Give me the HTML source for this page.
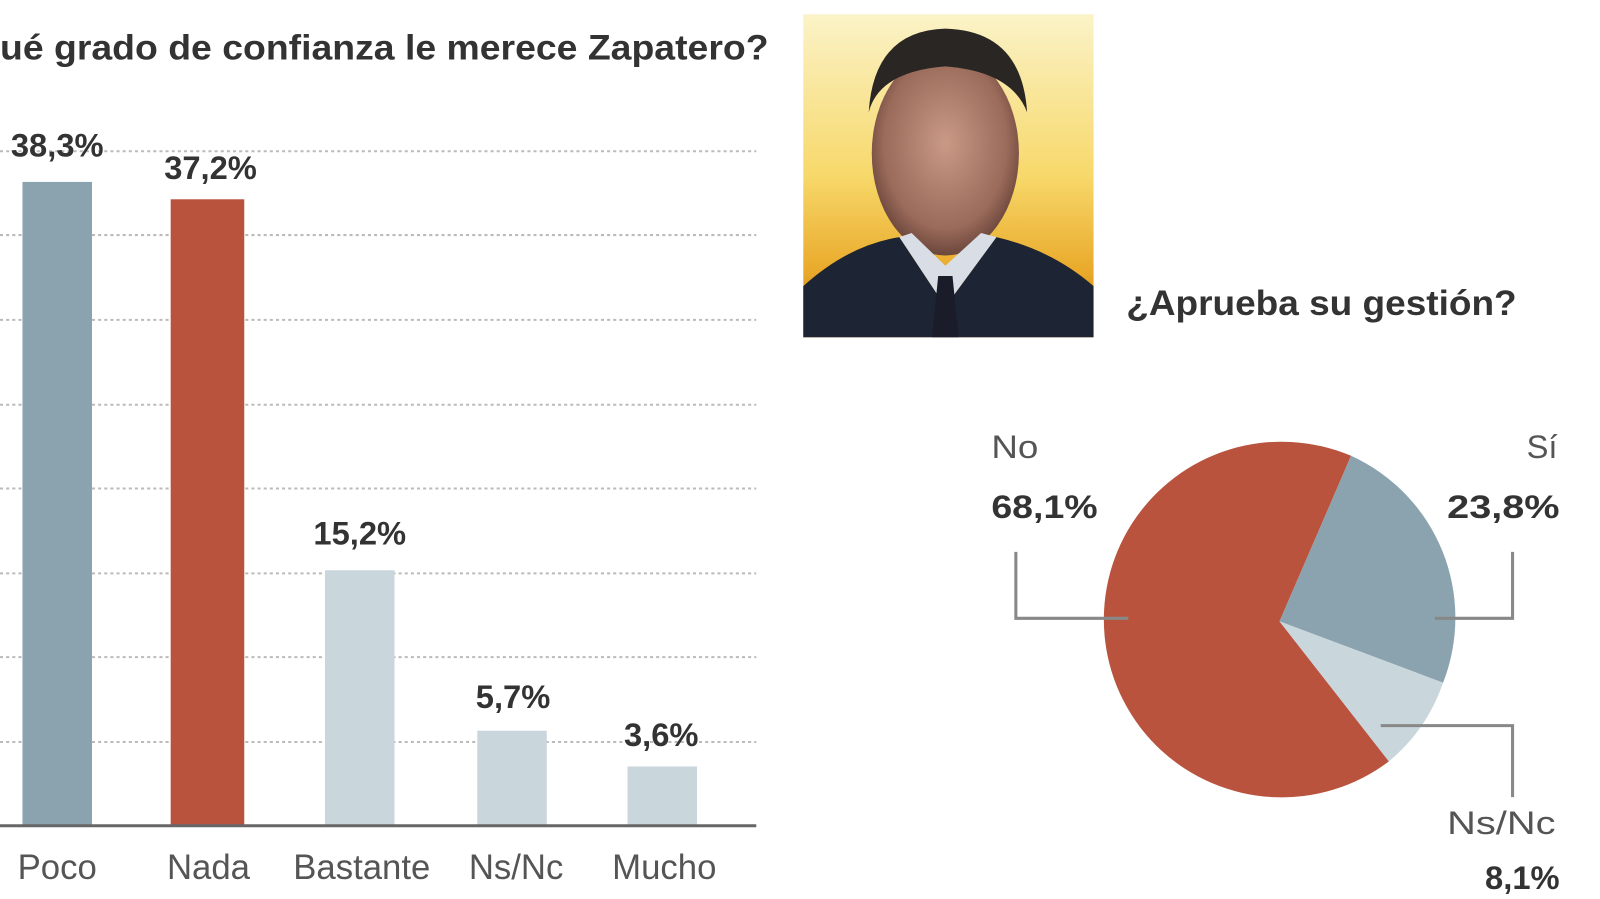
<!DOCTYPE html>
<html><head><meta charset="utf-8"><style>
html,body{margin:0;padding:0;background:#fff;overflow:hidden}
svg{display:block}
text{font-family:"Liberation Sans Narrow","Liberation Sans",sans-serif;}
</style></head><body>
<svg width="1600" height="899" viewBox="0 0 1600 899" xmlns="http://www.w3.org/2000/svg">
<defs>
<linearGradient id="bg" x1="0" y1="0" x2="0" y2="1">
<stop offset="0" stop-color="#fbf3c8"/><stop offset="0.5" stop-color="#f7d86a"/><stop offset="0.8" stop-color="#e9a92a"/><stop offset="1" stop-color="#c07a10"/>
</linearGradient>
<radialGradient id="face" cx="0.5" cy="0.45" r="0.6">
<stop offset="0" stop-color="#c99a86"/><stop offset="0.7" stop-color="#9a6a5a"/><stop offset="1" stop-color="#5a3a30"/>
</radialGradient>
</defs>
<g transform="scale(1.022)">
<text x="0" y="58" font-size="34" font-weight="bold" fill="#333" textLength="752" lengthAdjust="spacingAndGlyphs">ué grado de confianza le merece Zapatero?</text>
<g stroke="#bbb" stroke-width="2" stroke-dasharray="3,3">
<line x1="0" y1="148" x2="740" y2="148"/><line x1="0" y1="230" x2="740" y2="230"/>
<line x1="0" y1="313" x2="740" y2="313"/><line x1="0" y1="396" x2="740" y2="396"/>
<line x1="0" y1="478" x2="740" y2="478"/><line x1="0" y1="561" x2="740" y2="561"/>
<line x1="0" y1="643" x2="740" y2="643"/><line x1="0" y1="726" x2="740" y2="726"/>
</g>
<rect x="22" y="178" width="68" height="630" fill="#8aa3ae"/>
<rect x="167" y="195" width="72" height="613" fill="#b9533e"/>
<rect x="318" y="558" width="68" height="250" fill="#c9d6dc"/>
<rect x="467" y="715" width="68" height="93" fill="#c9d6dc"/>
<rect x="614" y="750" width="68" height="58" fill="#c9d6dc"/>
<line x1="0" y1="808" x2="740" y2="808" stroke="#666" stroke-width="3"/>
<g font-size="32" font-weight="bold" fill="#333" text-anchor="middle">
<text x="56" y="153">38,3%</text><text x="206" y="175">37,2%</text>
<text x="352" y="533">15,2%</text><text x="502" y="693">5,7%</text><text x="647" y="730">3,6%</text>
</g>
<g font-size="34" fill="#555" text-anchor="middle">
<text x="56" y="860">Poco</text><text x="204" y="860">Nada</text><text x="354" y="860">Bastante</text>
<text x="505" y="860">Ns/Nc</text><text x="650" y="860">Mucho</text>
</g>
<rect x="786" y="14" width="284" height="316" fill="url(#bg)"/>
<ellipse cx="925" cy="150" rx="72" ry="100" fill="url(#face)"/>
<path d="M850 110 Q855 30 925 28 Q1000 30 1005 110 Q990 70 925 65 Q860 70 850 110Z" fill="#2a2624"/>
<path d="M786 330 L786 280 Q830 240 880 232 L925 300 L975 232 Q1030 245 1070 280 L1070 330Z" fill="#1d2433"/>
<path d="M880 232 L925 300 L975 232 L960 228 L925 260 L892 228Z" fill="#d8dde6"/>
<path d="M918 270 L932 270 L938 330 L912 330Z" fill="#1a1c2a"/>
<text x="1102" y="308" font-size="34" font-weight="bold" fill="#333" textLength="382" lengthAdjust="spacingAndGlyphs">¿Aprueba su gestión?</text>
<g transform="translate(-6,0)">
<path d="M1258 608 L1328 446 A174 174 0 1 0 1365 745 Z" fill="#b9533e"/>
<path d="M1258 608 L1328 446 A174 174 0 0 1 1418 668 Z" fill="#8aa3ae"/>
<path d="M1258 608 L1418 668 A174 174 0 0 1 1365 745 Z" fill="#c9d6dc"/>
<g stroke="#888" stroke-width="3" fill="none">
<polyline points="1000,540 1000,605 1110,605"/>
<polyline points="1486,540 1486,605 1410,605"/>
<polyline points="1357,710 1486,710 1486,780"/>
</g>
<g font-size="32" fill="#555">
<text x="976" y="448" textLength="46" lengthAdjust="spacingAndGlyphs">No</text>
<text x="1530" y="448" text-anchor="end">Sí</text>
<text x="1528" y="816" text-anchor="end" textLength="106" lengthAdjust="spacingAndGlyphs">Ns/Nc</text>
</g>
<g font-size="32" font-weight="bold" fill="#333">
<text x="976" y="507" textLength="104" lengthAdjust="spacingAndGlyphs">68,1%</text>
<text x="1532" y="507" text-anchor="end" textLength="110" lengthAdjust="spacingAndGlyphs">23,8%</text>
<text x="1532" y="870" text-anchor="end">8,1%</text>
</g>
</g>
</g>
</svg>
</body></html>
